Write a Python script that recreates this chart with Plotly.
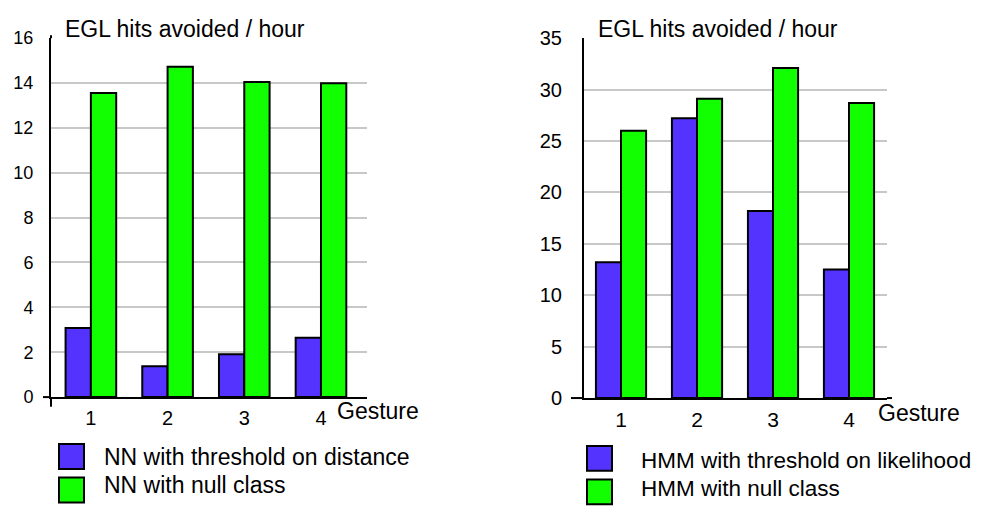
import plotly.graph_objects as go

# ---- data ----
gestures = ["1", "2", "3", "4"]
nn_threshold = [3.08, 1.37, 1.91, 2.65]
nn_null = [13.56, 14.73, 14.05, 13.99]
hmm_threshold = [13.2, 27.2, 18.2, 12.5]
hmm_null = [26.0, 29.1, 32.1, 28.7]
left_names = ["NN with threshold on distance", "NN with null class"]
right_names = ["HMM with threshold on likelihood", "HMM with null class"]
y_title = "EGL hits avoided / hour"
x_title = "Gesture"
left_ticks = [0, 2, 4, 6, 8, 10, 12, 14, 16]
right_ticks = [0, 5, 10, 15, 20, 25, 30, 35]

# ---- style ----
BLUE = "#5533FF"
GREEN = "#11FF00"
W, H = 982, 514
OFF = 8  # page body margin offset
FONT = "Liberation Sans, Arial, Helvetica, sans-serif"


def px(x):
    return (x - OFF) / W


def py(y):
    return (H - (y - OFF)) / H


fig = go.Figure()
series = [
    (nn_threshold, left_names[0], BLUE, "x", "y"),
    (nn_null, left_names[1], GREEN, "x", "y"),
    (hmm_threshold, right_names[0], BLUE, "x2", "y2"),
    (hmm_null, right_names[1], GREEN, "x2", "y2"),
]
for vals, name, col, xa, ya in series:
    fig.add_trace(go.Bar(
        x=gestures, y=vals, name=name, xaxis=xa, yaxis=ya,
        marker=dict(color=col, line=dict(color="black", width=2)),
        showlegend=False,
    ))

axis_common = dict(
    showgrid=False, zeroline=False, showline=True, linecolor="black", linewidth=2,
    type="category", ticks="outside", ticklen=2, tickcolor="rgba(0,0,0,0)",
)
yaxis_common = dict(
    showgrid=True, gridcolor="#c8c8c8", gridwidth=2, zeroline=False,
    showline=True, linecolor="black", linewidth=2,
    ticks="outside", tickcolor="rgba(0,0,0,0)",
)

fig.update_layout(
    width=W, height=H,
    margin=dict(l=0, r=0, t=0, b=0),
    paper_bgcolor="white", plot_bgcolor="white",
    barmode="group", bargap=0.34, bargroupgap=0,
    font=dict(family=FONT, color="black"),
    xaxis=dict(domain=[px(51), px(367)], range=[-0.52, 3.6], anchor="y",
               tickfont=dict(family=FONT, size=20, color="black"), **axis_common),
    yaxis=dict(domain=[py(403), py(28)], range=[0, 16], anchor="x",
               tickvals=left_ticks, ticklen=12,
               tickfont=dict(family=FONT, size=18, color="black"), **yaxis_common),
    xaxis2=dict(domain=[px(584), px(887)], range=[-0.487, 3.5], anchor="y2",
                tickfont=dict(family=FONT, size=21, color="black"), **axis_common),
    yaxis2=dict(domain=[py(404), py(28)], range=[0, 35], anchor="x2",
                tickvals=right_ticks, ticklen=16,
                tickfont=dict(family=FONT, size=20, color="black"), **yaxis_common),
)

# axis line extensions (as in the reference drawing)
ext = [
    (43, 403, 51, 403),
    (51, 403, 51, 413),
    (51, 28, 51, 25),
    (571, 404, 584, 404),
    (887, 404, 892, 404),
]
for x0, y0, x1, y1 in ext:
    fig.add_shape(type="line", xref="paper", yref="paper",
                  x0=px(x0), x1=px(x1), y0=py(y0), y1=py(y1),
                  line=dict(color="black", width=2))

# titles
for x0 in (63, 596):
    fig.add_annotation(text=y_title, xref="paper", yref="paper",
                       x=px(x0), y=py(18), xanchor="left", yanchor="middle",
                       showarrow=False, font=dict(family=FONT, size=23, color="black"))
for x0, yc in ((335, 418), (876, 420)):
    fig.add_annotation(text=x_title, xref="paper", yref="paper",
                       x=px(x0), y=py(yc), xanchor="left", yanchor="middle",
                       showarrow=False, font=dict(family=FONT, size=23, color="black"))

# legends (manual, large squares)
legend_specs = [
    (59, 102, 23, [(452, 466, left_names[0], BLUE), (487, 495, left_names[1], GREEN)]),
    (587, 639, 22.5, [(454, 469, right_names[0], BLUE), (489, 498, right_names[1], GREEN)]),
]
for sx, tx, fs, rows in legend_specs:
    for top, tc, name, col in rows:
        fig.add_shape(type="rect", xref="paper", yref="paper",
                      x0=px(sx), x1=px(sx + 25), y0=py(top + 26), y1=py(top),
                      fillcolor=col, line=dict(color="black", width=2))
        fig.add_annotation(text=name, xref="paper", yref="paper",
                           x=px(tx), y=py(tc), xanchor="left", yanchor="middle",
                           showarrow=False, font=dict(family=FONT, size=fs, color="black"))

fig.write_html("out.html")
